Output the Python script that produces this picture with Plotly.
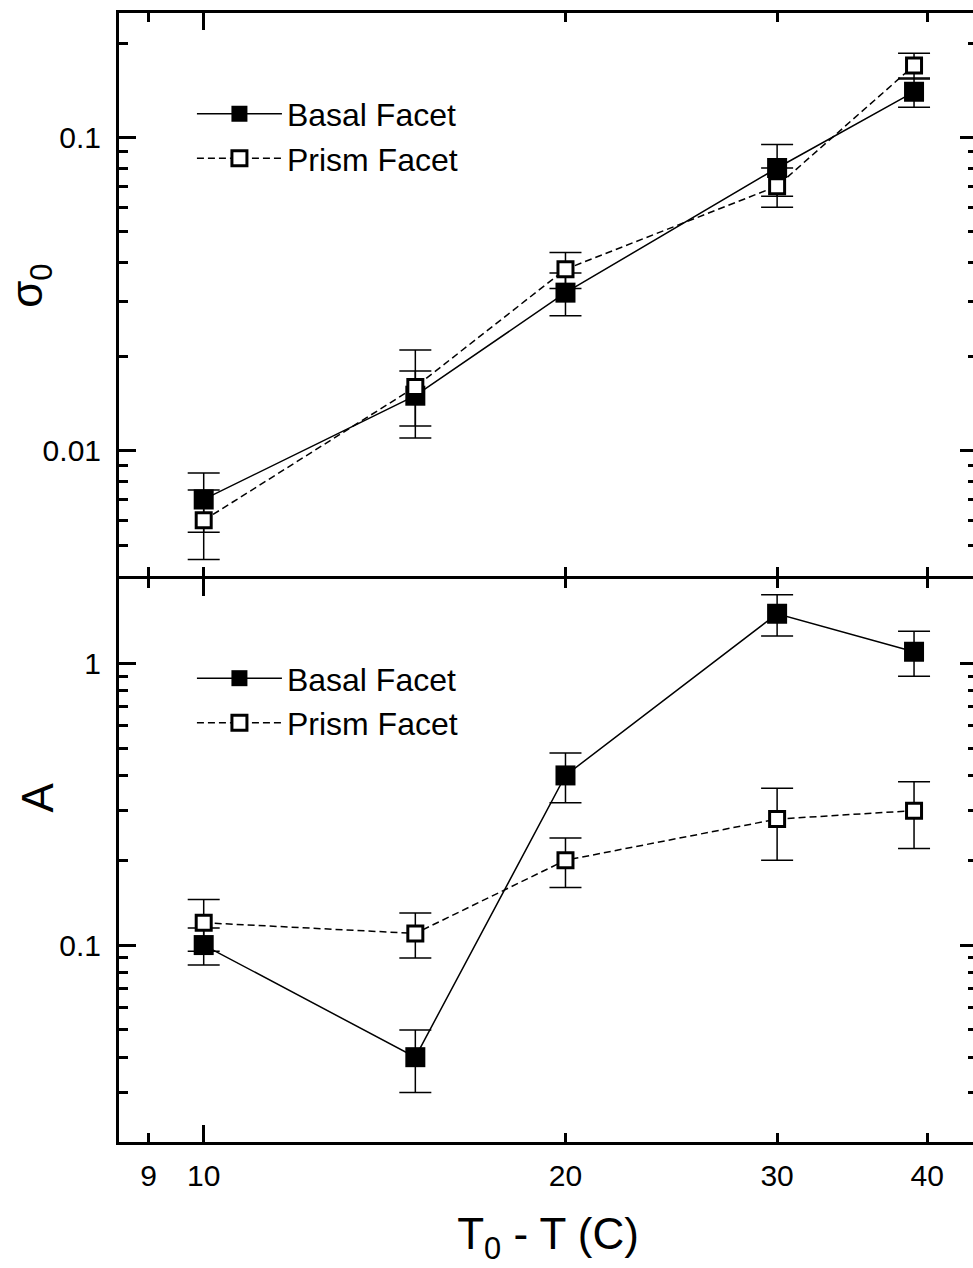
import math
import plotly.graph_objects as go

# ---------------- data ----------------
x_temp = [10, 15, 20, 30, 39]

sigma_basal = [0.007, 0.015, 0.032, 0.080, 0.140]
sigma_basal_err = [0.0015, 0.003, 0.005, 0.015, 0.015]
sigma_prism = [0.006, 0.016, 0.038, 0.070, 0.170]
sigma_prism_err = [0.0015, 0.005, 0.005, 0.010, 0.016]

A_basal = [0.10, 0.04, 0.40, 1.50, 1.10]
A_basal_err = [0.015, 0.010, 0.080, 0.250, 0.200]
A_prism = [0.12, 0.11, 0.20, 0.28, 0.30]
A_prism_err = [0.025, 0.020, 0.040, 0.080, 0.080]

x_tick_vals = [9, 10, 20, 30, 40]
x_tick_text = ["9", "10", "20", "30", "40"]
series_names = ["Basal Facet", "Prism Facet"]

# ---------------- style ----------------
FONT = "Liberation Sans, Arial, sans-serif"
BLACK = "black"
basal_line = dict(color=BLACK, width=1.5)
prism_line = dict(color=BLACK, width=1.5, dash="7px,4px")
basal_marker = dict(symbol="square", size=20, color=BLACK, line=dict(width=0))
prism_marker = dict(symbol="square", size=15, color="white", line=dict(width=3, color=BLACK))


def err(vals):
    return dict(type="data", array=vals, symmetric=True, color=BLACK, thickness=1.5, width=16)


fig = go.Figure()

panels = [
    ("x", "y", "legend", sigma_basal, sigma_basal_err, sigma_prism, sigma_prism_err, "1"),
    ("x2", "y2", "legend2", A_basal, A_basal_err, A_prism, A_prism_err, "2"),
]
for xa, ya, lg, b, be, p, pe, tag in panels:
    fig.add_trace(go.Scatter(
        x=x_temp, y=b, error_y=err(be), mode="lines+markers", name=series_names[0],
        line=basal_line, marker=basal_marker, xaxis=xa, yaxis=ya,
        legend=lg, legendgroup="b" + tag))
    fig.add_trace(go.Scatter(
        x=x_temp, y=p, error_y=err(pe), mode="lines+markers", name=series_names[1],
        line=prism_line, marker=prism_marker, xaxis=xa, yaxis=ya,
        legend=lg, legendgroup="p" + tag))

# empty traces so the overlay axes (long decade tick) get drawn
fig.add_trace(go.Scatter(x=[None], y=[None], xaxis="x3", yaxis="y", showlegend=False, hoverinfo="skip"))
fig.add_trace(go.Scatter(x=[None], y=[None], xaxis="x4", yaxis="y2", showlegend=False, hoverinfo="skip"))

x_range = [0.92952, 1.64345]
top_range = [math.log10(0.004), math.log10(0.25)]
bot_range = [math.log10(0.02), math.log10(2)]
split = 0.50044
half_line = 1.5 / 1129  # so the two middle axis lines coincide


def minor_vals(decades, lo, hi):
    out = []
    for d in decades:
        for k in range(2, 10):
            v = k * d
            if lo < v < hi:
                out.append(v)
    return out


axis_common = dict(
    type="log", showline=True, linewidth=3, linecolor=BLACK, showgrid=False,
    zeroline=False, ticks="inside", tickwidth=3, tickcolor=BLACK,
)

xbase = dict(axis_common, range=x_range, mirror="ticks", ticklen=9,
             tickvals=x_tick_vals, ticktext=x_tick_text)

fig.update_layout(
    width=980, height=1268,
    margin=dict(l=119, r=0, t=13, b=126),
    paper_bgcolor="white", plot_bgcolor="white",
    font=dict(family=FONT, color=BLACK, size=30),
    xaxis=dict(xbase, anchor="y", domain=[0, 1], showticklabels=False),
    xaxis2=dict(xbase, anchor="y2", domain=[0, 1], showticklabels=True,
                tickfont=dict(size=30, family=FONT), ticklabelstandoff=5,
                title=dict(text="T<sub>0</sub> - T (C)", font=dict(size=44, family=FONT), standoff=28)),
    xaxis3=dict(type="log", range=x_range, overlaying="x", anchor="y", side="top",
                showline=False, showgrid=False, zeroline=False, ticks="inside",
                ticklen=17, tickwidth=3, tickcolor=BLACK, tickvals=[10], showticklabels=False),
    xaxis4=dict(type="log", range=x_range, overlaying="x2", anchor="y2", side="bottom",
                mirror="ticks", showline=False, showgrid=False, zeroline=False, ticks="inside",
                ticklen=17, tickwidth=3, tickcolor=BLACK, tickvals=[10], showticklabels=False),
    yaxis=dict(axis_common, anchor="x", domain=[split + half_line, 1], range=top_range, mirror="ticks",
               ticklen=17, tickvals=[0.01, 0.1], ticktext=["0.01", "0.1"],
               tickfont=dict(size=30, family=FONT), ticklabelstandoff=9,
               minor=dict(ticks="inside", ticklen=9, tickwidth=3, tickcolor=BLACK,
                          tickvals=minor_vals([0.001, 0.01, 0.1], 0.004, 0.25), showgrid=False)),
    yaxis2=dict(axis_common, anchor="x2", domain=[0, split - half_line], range=bot_range, mirror="ticks",
                ticklen=17, tickvals=[0.1, 1], ticktext=["0.1", "1"],
                tickfont=dict(size=30, family=FONT), ticklabelstandoff=9,
                minor=dict(ticks="inside", ticklen=9, tickwidth=3, tickcolor=BLACK,
                           tickvals=minor_vals([0.01, 0.1, 1], 0.02, 2), showgrid=False)),
    legend=dict(x=0.085, y=0.935, xanchor="left", yanchor="top",
                font=dict(size=32, family=FONT), bgcolor="rgba(0,0,0,0)",
                itemwidth=85, tracegroupgap=0, itemsizing="trace"),
    legend2=dict(x=0.085, y=0.435, xanchor="left", yanchor="top",
                 font=dict(size=32, family=FONT), bgcolor="rgba(0,0,0,0)",
                 itemwidth=85, tracegroupgap=0, itemsizing="trace"),
    showlegend=True,
    annotations=[
        dict(text="σ<sub>0</sub>", xref="paper", yref="paper", x=-0.103, y=0.758,
             textangle=-90, showarrow=False, font=dict(size=44, family=FONT),
             xanchor="center", yanchor="middle"),
        dict(text="A", xref="paper", yref="paper", x=-0.095, y=0.3056,
             textangle=-90, showarrow=False, font=dict(size=44, family=FONT),
             xanchor="center", yanchor="middle"),
    ],
)

fig.write_html("out.html", config={"displayModeBar": False},
               post_script="document.body.style.margin='0';document.body.style.overflow='hidden';")
